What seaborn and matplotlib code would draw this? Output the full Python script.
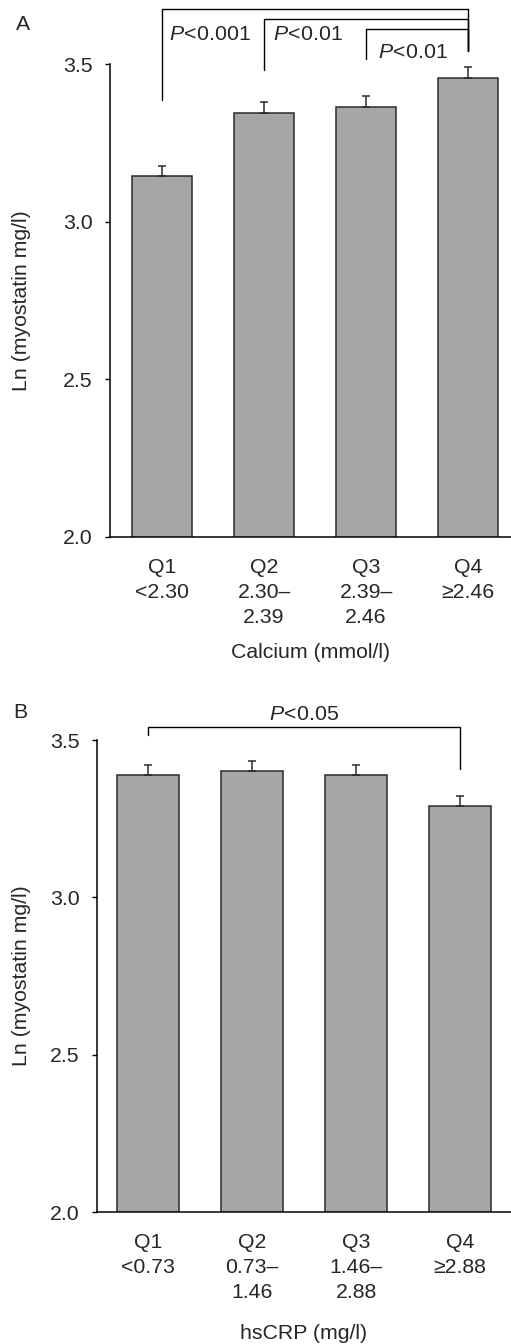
import matplotlib
matplotlib.use("Agg")
import matplotlib.pyplot as plt
import seaborn as sns
import numpy as np

# ---- data ----
cats_a = ["Q1\n<2.30", "Q2\n2.30–\n2.39", "Q3\n2.39–\n2.46", "Q4\n≥2.46"]
vals_a = [3.146, 3.345, 3.365, 3.457]
err_a = [0.032, 0.035, 0.034, 0.033]

cats_b = ["Q1\n<0.73", "Q2\n0.73–\n1.46", "Q3\n1.46–\n2.88", "Q4\n≥2.88"]
vals_b = [3.388, 3.400, 3.388, 3.290]
err_b = [0.032, 0.034, 0.032, 0.032]

sns.set_theme(style="ticks")
plt.rcParams['font.family'] = ['Liberation Sans', 'DejaVu Sans']
plt.rcParams['mathtext.fontset'] = 'custom'
plt.rcParams['mathtext.rm'] = 'Liberation Sans'
plt.rcParams['mathtext.it'] = 'Liberation Sans:italic'
FS = 15.3
BAR = "#a6a6a6"
EDGE = "#2b2b2b"

fig = plt.figure(figsize=(5.11, 13.44), dpi=100)
ax_a = fig.add_axes([110/511, 1-537/1344, 401/511, (537-64)/1344])
ax_b = fig.add_axes([97/511, 1-1212/1344, 414/511, (1212-740)/1344])


def panel(ax, cats, vals, errs, xlim, xlabel, ylabel_x, xlabel_y):
    sns.barplot(x=cats, y=vals, color=BAR, saturation=1, width=0.59,
                edgecolor=EDGE, linewidth=1.1, ax=ax, errorbar=None)
    x = np.arange(len(cats))
    ax.errorbar(x, vals, yerr=[np.zeros(len(errs)), errs], fmt="none",
                ecolor=EDGE, elinewidth=1.1, capsize=3, capthick=1.1)
    ax.set_ylim(2.0, 3.5)
    ax.set_xlim(*xlim)
    ax.set_yticks([2.0, 2.5, 3.0, 3.5])
    ax.set_yticklabels(["2.0", "2.5", "3.0", "3.5"])
    for s in ["top", "right"]:
        ax.spines[s].set_visible(False)
    for s in ["left", "bottom"]:
        ax.spines[s].set_linewidth(1.1)
        ax.spines[s].set_color("black")
    ax.tick_params(axis="y", length=3.5, width=1.0, pad=9, labelsize=FS, color="black")
    ax.tick_params(axis="x", length=0, pad=15, labelsize=FS)
    for lab in ax.get_xticklabels():
        lab.set_linespacing(1.39)
        lab.set_verticalalignment("top")
    ax.set_ylabel("Ln (myostatin mg/l)", fontsize=FS)
    ax.yaxis.set_label_coords(ylabel_x, 0.5)
    ax.set_xlabel(xlabel, fontsize=FS, va="center")
    ax.xaxis.set_label_coords(0.5, xlabel_y)


panel(ax_a, cats_a, vals_a, err_a, (-0.51, 3.42), "Calcium (mmol/l)", (31-110)/401, -0.245)
panel(ax_b, cats_b, vals_b, err_b, (-0.49, 3.49), "hsCRP (mg/l)", (31-97)/414, -0.257)

# ---- significance brackets ----
lw = 1.0
brk_a_left = [0, 1, 2]
brk_a_right = 3
brk_a_top = [3.674, 3.642, 3.611]
brk_a_leg = [3.386, 3.481, 3.516]
brk_a_rleg = 3.541
for l, top, leg in zip(brk_a_left, brk_a_top, brk_a_leg):
    ax_a.plot([l, l, brk_a_right, brk_a_right], [leg, top, top, brk_a_rleg],
              color="black", lw=lw, clip_on=False)
txt_a = ["0.001", "0.01", "0.01"]
txt_a_x = [0.07, 1.09, 2.12]
txt_a_y = [3.592, 3.592, 3.535]
for t, tx, ty in zip(txt_a, txt_a_x, txt_a_y):
    ax_a.text(tx, ty, r"$\it{P}\!<\!\mathrm{" + t + "}$", fontsize=FS, ha="left", va="center")

# panel B
ax_b.plot([0, 0, 3, 3], [3.516, 3.541, 3.541, 3.408], color="black", lw=lw, clip_on=False)
ax_b.text(1.5, 3.582, r"$\it{P}\!<\!\mathrm{0.05}$", fontsize=FS, ha="center", va="center")

fig.text(16/511, 1-25/1344, "A", fontsize=FS, ha="left", va="center")
fig.text(13/511, 1-712/1344, "B", fontsize=FS, ha="left", va="center")

fig.savefig("out.png", dpi=100)
